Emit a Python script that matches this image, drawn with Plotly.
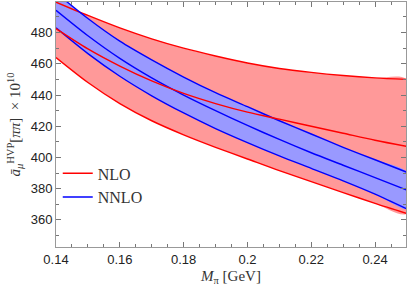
import plotly.graph_objects as go

m_pi = [0.14, 0.15, 0.16, 0.17, 0.18, 0.19, 0.20, 0.21, 0.22, 0.23, 0.24, 0.25]

nlo_upper = [499.5, 491.0, 483.0, 476.0, 470.0, 465.0, 460.5, 457.0, 454.5, 452.5, 451.0, 450.0]
nlo_central = [482.5, 469.5, 458.5, 449.0, 441.0, 434.5, 429.0, 424.5, 420.0, 415.5, 411.0, 407.0]
nlo_lower = [464.0, 448.0, 434.5, 423.5, 414.5, 406.5, 399.0, 391.5, 384.5, 377.5, 370.5, 364.0]

nnlo_upper = [505.5, 489.0, 474.5, 462.5, 451.5, 441.5, 432.5, 423.5, 415.0, 406.5, 398.5, 390.5]
nnlo_central = [494.3, 478.0, 463.5, 451.0, 440.0, 430.0, 420.5, 411.5, 403.0, 395.0, 387.0, 379.0]
nnlo_lower = [483.0, 466.5, 452.0, 439.5, 428.5, 418.5, 409.5, 401.0, 393.0, 385.0, 376.5, 367.0]

x_ticks = [0.14, 0.16, 0.18, 0.20, 0.22, 0.24]
x_tick_labels = ["0.14", "0.16", "0.18", "0.2", "0.22", "0.24"]
y_ticks = [360, 380, 400, 420, 440, 460, 480]

RED = "#ff0000"
BLUE = "#0000ff"
RED_FILL = "#ff9999"
BLUE_FILL = "#9999ff"

fig = go.Figure()

def band(lower, upper, fill):
    fig.add_trace(go.Scatter(
        x=m_pi + m_pi[::-1], y=upper + lower[::-1],
        fill="toself", fillcolor=fill, mode="none",
        line=dict(shape="spline", smoothing=0.8),
        showlegend=False, hoverinfo="skip"))

def curve(y, color, name=None):
    fig.add_trace(go.Scatter(
        x=m_pi, y=y, mode="lines",
        line=dict(color=color, width=1.4, shape="spline", smoothing=0.8),
        name=name or "", showlegend=name is not None))

band(nlo_lower, nlo_upper, RED_FILL)
band(nnlo_lower, nnlo_upper, BLUE_FILL)
curve(nlo_upper, RED)
curve(nlo_lower, RED)
curve(nnlo_upper, BLUE)
curve(nnlo_lower, BLUE)
curve(nnlo_central, BLUE, "NNLO")
curve(nlo_central, RED, "NLO")

axis_common = dict(
    showline=True, linecolor="#999999", linewidth=1, mirror="allticks",
    ticks="inside", ticklen=5, tickcolor="#777777", tickwidth=1,
    showgrid=False, zeroline=False,
    tickfont=dict(family="Liberation Sans, Arial, sans-serif", size=13, color="#222222"),
)

fig.update_layout(
    width=407, height=292,
    margin=dict(l=56, r=1, t=2, b=45),
    plot_bgcolor="white", paper_bgcolor="white",
    xaxis=dict(
        range=[0.14, 0.2497], tickvals=x_ticks, ticktext=x_tick_labels,
        minor=dict(dtick=0.005, tick0=0.14, ticks="inside", ticklen=3, tickcolor="#777777"),
        title=dict(text="<i>M</i><sub>π</sub> [GeV]", standoff=4,
                   font=dict(family="Liberation Serif, serif", size=15, color="#333333")),
        **axis_common),
    yaxis=dict(
        range=[342.6, 499.6], tickvals=y_ticks,
        minor=dict(dtick=10, tick0=340, ticks="inside", ticklen=3, tickcolor="#777777"),
        title=dict(text="<i>ā</i><sub><i>μ</i></sub><sup>HVP</sup>[<i>ππ</i>]  × 10<sup>10</sup>",
                   standoff=6,
                   font=dict(family="Liberation Serif, serif", size=15, color="#333333")),
        **axis_common),
    legend=dict(
        x=0.005, y=0.37, xanchor="left", yanchor="top",
        bgcolor="rgba(0,0,0,0)", traceorder="reversed",
        font=dict(family="Liberation Serif, serif", size=16, color="#333333"),
        itemwidth=30,
    ),
)

fig.write_html("out.html", config={"displayModeBar": False},
               post_script="document.body.style.margin='0';")
